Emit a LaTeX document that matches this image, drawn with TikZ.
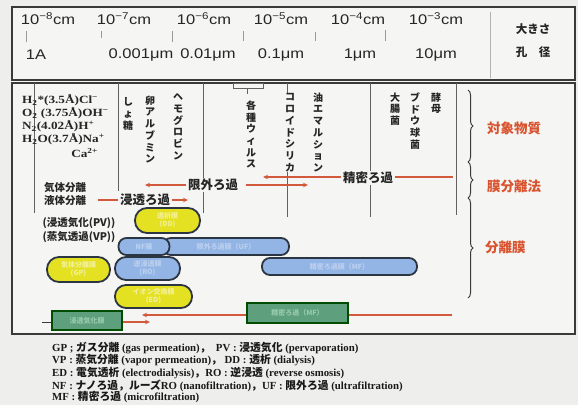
\documentclass[tikz,border=0pt]{standalone}
\usepackage{fontspec}
\setmainfont{Liberation Serif}
\newfontfamily\jp{Noto Sans CJK JP}
\newfontfamily\hsw{Liberation Sans}[FakeStretch=1.18]
\newfontfamily\sew{Liberation Serif}[FakeStretch=1.2]
\usetikzlibrary{decorations.pathreplacing,arrows.meta}
\definecolor{bgc}{HTML}{F5F5F3}
\definecolor{pagec}{HTML}{EEEEEC}
\definecolor{framec}{HTML}{3A3A3A}
\definecolor{redl}{HTML}{D25A3C}
\definecolor{orangeT}{HTML}{D9532F}
\definecolor{bluef}{HTML}{93B5E5}
\definecolor{bluet}{HTML}{BCD0EE}
\definecolor{yelf}{HTML}{E4E123}
\definecolor{yelt}{HTML}{F4F09A}
\definecolor{grnf}{HTML}{5E9F7E}
\definecolor{grnt}{HTML}{98CBAB}
\definecolor{pillb}{HTML}{2C3542}
\newcommand\jtx[1]{{\jp\bfseries #1}}
\begin{document}
\begin{tikzpicture}[x=1pt,y=-1pt,
  frame/.style={draw=framec,line width=1.6},
  colline/.style={draw=framec!80,line width=0.8},
  tickline/.style={draw=gray!80,line width=0.7},
  hdr/.style={font=\hsw\fontsize{14}{16}\selectfont,inner sep=0pt,text=black!85},
  hdrj/.style={font=\jp\bfseries\fontsize{11.5}{13}\selectfont,inner sep=0pt,text=black!85},
  chem/.style={font=\sew\bfseries\fontsize{11}{13}\selectfont,inner sep=0pt,text=black!85},
  vt/.style={font=\jp\bfseries\fontsize{10}{11.7}\selectfont,align=center,anchor=north,inner sep=0.5pt,fill=bgc,text=black!85},
  proc/.style={font=\jp\bfseries\fontsize{12.5}{14}\selectfont,inner sep=1.5pt,fill=bgc,text=black!85},
  side/.style={font=\jp\bfseries\fontsize{10.5}{12}\selectfont,inner sep=0pt,text=black!85},
  cat/.style={font=\jp\bfseries\fontsize{13.5}{15}\selectfont,inner sep=0pt,text=orangeT},
  redln/.style={draw=redl,line width=1.5},
  redar/.style={draw=redl,line width=1.5,-{Stealth[length=5pt,width=4.5pt]}},
  brc/.style={draw=framec,line width=1,decorate,decoration={brace,amplitude=5pt}},
  pill/.style={draw=pillb,line width=1.8,inner sep=0pt,align=center,font=\jp\bfseries\fontsize{7}{8}\selectfont},
  legend/.style={font=\bfseries\fontsize{10.8}{13}\selectfont,inner sep=0pt,anchor=west,text=black!90}
]
\useasboundingbox (0,0) rectangle (578,405);
\fill[pagec] (0,0) rectangle (578,405);
\fill[bgc] (12,7) rectangle (575,334);
% frames
\draw[frame] (12,7) rectangle (575,80);
\draw[frame] (12,83) rectangle (575,334);
\draw[gray!60,line width=0.6] (490,12) -- (490,78);
% header scale
\node[hdr] (t8) at (48,19) {10\textsuperscript{−8}cm};
\node[hdr] (t7) at (124,19) {10\textsuperscript{−7}cm};
\node[hdr] (t6) at (204,19) {10\textsuperscript{−6}cm};
\node[hdr] (t5) at (281,19) {10\textsuperscript{−5}cm};
\node[hdr] (t4) at (358,19) {10\textsuperscript{−4}cm};
\node[hdr] (t3) at (436,19) {10\textsuperscript{−3}cm};
\draw[tickline] (26,31) -- (26,42);
\draw[tickline] (101,31) -- (101,38);
\draw[tickline] (172,31) -- (172,42);
\draw[tickline] (243,31) -- (243,41);
\draw[tickline] (315,32) -- (315,41);
\draw[tickline] (385,30) -- (385,41);
\node[hdr] (b1) at (36,55) {1A};
\node[hdr] (b2) at (141,55) {0.001μm};
\node[hdr] (b3) at (208,55) {0.01μm};
\node[hdr] (b4) at (281,55) {0.1μm};
\node[hdr] (b5) at (360,55) {1μm};
\node[hdr] (b6) at (436,55) {10μm};
\node[hdrj] (size) at (533,29) {大きさ};
\node[hdrj] (pore) at (533,52) {孔\quad 径};
% column lines
\draw[colline] (34,83) -- (34,213);
\draw[colline] (118,83) -- (118,191);
\draw[colline] (203,83) -- (203,213);
\draw[colline] (287,83) -- (287,217);
\draw[colline] (370,83) -- (370,217);
\draw[colline] (456,83) -- (456,215);
\draw[colline,line width=0.7] (233,83) rectangle (263,88);
\draw[colline,line width=0.7] (247,88) -- (247,94);
% chemical labels
\node[chem,anchor=west] (c1) at (22,100) {H\textsubscript{2}*(3.5Å)Cl\textsuperscript{−}};
\node[chem,anchor=west] (c2) at (22,113) {O\textsubscript{2} (3.75Å)OH\textsuperscript{−}};
\node[chem,anchor=west] (c3) at (22,126) {N\textsubscript{2}(4.02Å)H\textsuperscript{+}};
\node[chem,anchor=west] (c4) at (22,139) {H\textsubscript{2}O(3.7Å)Na\textsuperscript{+}};
\node[chem,anchor=east] (c5) at (98,153) {Ca\textsuperscript{2+}};
% vertical substance names
\node[vt] (v1) at (128,97) {し\\ょ\\糖};
\node[vt] (v2) at (150,95) {卵\\ア\\ル\\ブ\\ミ\\ン};
\node[vt] (v3) at (178,93) {ヘ\\モ\\グ\\ロ\\ビ\\ン};
\node[vt] (v4) at (251,100) {各\\種\\ウ\\ィ\\ル\\ス};
\node[vt] (v5) at (290,93) {コ\\ロ\\イ\\ド\\シ\\リ\\カ};
\node[vt] (v6) at (318,92) {油\\エ\\マ\\ル\\シ\\ョ\\ン};
\node[vt] (v7) at (395,92) {大\\腸\\菌};
\node[vt] (v8) at (415,92) {ブ\\ド\\ウ\\球\\菌};
\node[vt] (v9) at (436,92) {酵\\母};
% processes
\node[proc] (mf) at (368,178) {精密ろ過};
\coordinate (mfL) at (263,177);
\coordinate (mfR) at (453,177);
\draw[redar] (mf.west |- mfL) -- (mfL);
\draw[redln] (mf.east |- mfR) -- (mfR);
\node[proc] (uf) at (213,185) {限外ろ過};
\coordinate (ufL) at (145,185);
\coordinate (ufR) at (308,185);
\draw[redar] (uf.west) -- (ufL);
\draw[redar] ([xshift=6pt]uf.east) -- (ufR);
\node[proc] (so) at (145,200) {浸透ろ過};
\coordinate (soL) at (98,200);
\coordinate (soR) at (188,200);
\draw[redln] (so.west) -- (soL);
\draw[redar] (so.east) -- (soR);
\node[side] (gas) at (65,188) {気体分離};
\node[side] (liq) at (65,201) {液体分離};
\node[side] (pv) at (79,223) {(浸透気化(PV))};
\node[side] (vp) at (79,237) {(蒸気透過(VP))};
% membranes
\node[pill,fill=yelf,text=yelt,minimum width=65,minimum height=25,rounded corners=12] (dd) at (167.5,220.5) {透析膜\\(DD)};
\node[pill,fill=bluef,text=bluet,minimum width=126,minimum height=17,rounded corners=8] (ufm) at (226,246.5) {限外ろ過膜（UF）};
\node[pill,fill=bluef,text=bluet,minimum width=51,minimum height=17,rounded corners=8] (nfm) at (144,246.5) {NF膜};
\node[pill,fill=yelf,text=yelt,minimum width=63,minimum height=25,rounded corners=12] (gp) at (78.5,269.5) {気体分離膜\\(GP)};
\node[pill,fill=bluef,text=bluet,minimum width=65,minimum height=23,rounded corners=11] (rom) at (147.5,268.5) {逆浸透膜\\(RO)};
\node[pill,fill=bluef,text=bluet,minimum width=155,minimum height=17,rounded corners=8] (mfm) at (339.5,266.5) {精密ろ過膜（MF）};
\node[pill,fill=yelf,text=yelt,minimum width=77,minimum height=23,rounded corners=11] (ed) at (153.5,296.5) {イオン交換膜\\(ED)};
\node[pill,draw=black!70!green,line width=1.4,fill=grnf,text=grnt,minimum width=70,minimum height=19] (pvm) at (87,320.5) {浸透気化膜};
\node[pill,draw=black!70!green,line width=1.4,fill=grnf,text=grnt,minimum width=101,minimum height=20] (mfp) at (297.5,313) {精密ろ過（MF）};
\coordinate (pvL) at (42,322);
\coordinate (pvR) at (150,322);
\draw[draw=framec,line width=1] (pvm.west |- pvL) -- (pvL);
\draw[redar] (pvm.east |- pvR) -- (pvR);
\coordinate (mpL) at (142,315);
\coordinate (mpR) at (452,315);
\draw[redar] (mfp.west |- mpL) -- (mpL);
\draw[redln] (mfp.east |- mpR) -- (mpR);
% braces and categories
\draw[brc] (468,90) -- (468,162);
\draw[brc] (468,162) -- (468,198);
\draw[brc] (468,198) -- (468,298);
\node[cat] (obj) at (514,128) {対象物質};
\node[cat] (meth) at (514,186) {膜分離法};
\node[cat,anchor=west] (sep) at (485,247) {分離膜};
% legend
\node[legend] (l1) at (52,348) {GP ; \jtx{ガス分離} (gas permeation)\jtx{，}\ \ PV : \jtx{浸透気化} (pervaporation)};
\node[legend] (l2) at (52,360.5) {VP : \jtx{蒸気分離} (vapor permeation)\jtx{，}\ DD : \jtx{透析} (dialysis)};
\node[legend] (l3) at (52,373) {ED : \jtx{電気透析} (electrodialysis)\jtx{，}RO : \jtx{逆浸透} (reverse osmosis)};
\node[legend] (l4) at (52,385.5) {NF : \jtx{ナノろ過，ルーズ}RO (nanofiltration)\jtx{，}UF : \jtx{限外ろ過} (ultrafiltration)};
\node[legend] (l5) at (52,397.5) {MF : \jtx{精密ろ過} (microfiltration)};
\end{tikzpicture}
\end{document}
